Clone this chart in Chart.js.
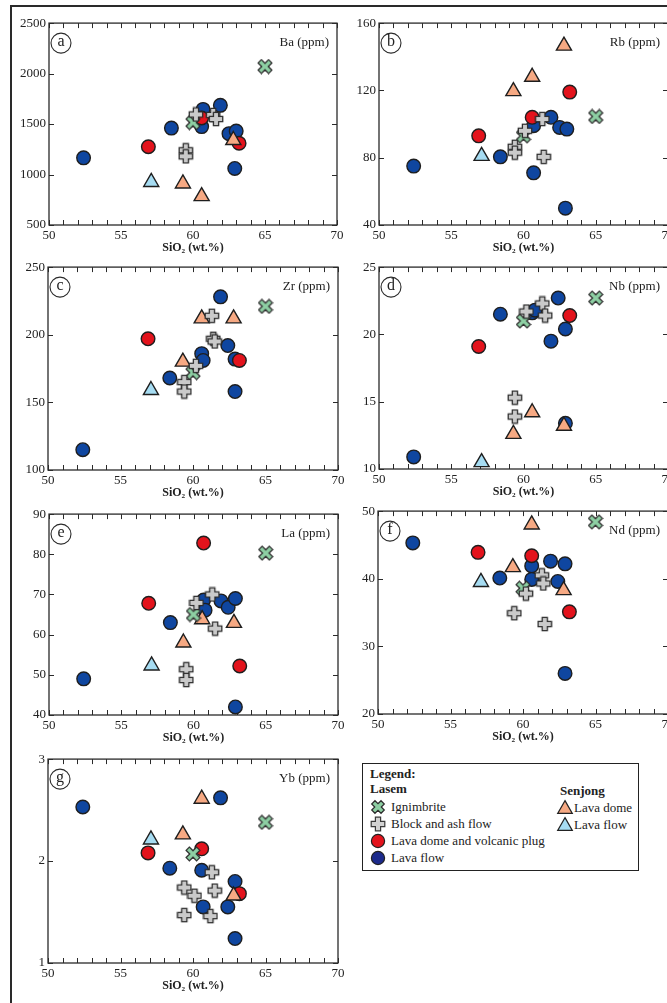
<!DOCTYPE html>
<html>
<head>
<meta charset="utf-8">
<title>SiO2 variation diagrams</title>
<script src="https://cdn.jsdelivr.net/npm/chart.js@4.4.1/dist/chart.umd.min.js"></script>
<style>
  html, body { margin: 0; padding: 0; background: #fff; }
  body { width: 667px; height: 1003px; position: relative; overflow: hidden; font-family: "Liberation Serif", "Times New Roman", serif; color: #222; }
  .frame { position: absolute; left: 10px; top: 5px; width: 700px; height: 1100px; border-left: 2px solid #2a2a2a; border-top: 2px solid #2a2a2a; }
  .panel { position: absolute; }
  .panel canvas { display: block; }
  .legend { position: absolute; left: 362px; top: 763px; width: 275px; height: 106px; border: 1px solid #222; background: #fff; font-size: 13px; }
  .legend div { position: absolute; line-height: 16px; white-space: nowrap; }
  .legend svg { position: absolute; }
</style>
</head>
<body>
<div class="frame"></div>
<div id="panels"></div>

<div class="legend">
  <div style="left:7px;top:2px"><b>Legend:</b></div>
  <div style="left:7px;top:17px"><b>Lasem</b></div>
  <svg style="left:7px;top:35px" width="16" height="16"><polygon points="5.7,1.4 10.3,1.4 10.3,5.7 14.6,5.7 14.6,10.3 10.3,10.3 10.3,14.6 5.7,14.6 5.7,10.3 1.4,10.3 1.4,5.7 5.7,5.7" transform="rotate(45 8 8)" fill="#8dcfa3" stroke="#2a2a2a" stroke-width="1.2"/></svg>
  <div style="left:28px;top:35px">Ignimbrite</div>
  <svg style="left:7px;top:52px" width="16" height="16"><polygon points="5.4,1.2 10.6,1.2 10.6,5.4 14.8,5.4 14.8,10.6 10.6,10.6 10.6,14.8 5.4,14.8 5.4,10.6 1.2,10.6 1.2,5.4 5.4,5.4" fill="#d2d2d2" stroke="#3a3a3a" stroke-width="1.2"/></svg>
  <div style="left:28px;top:52px">Block and ash flow</div>
  <svg style="left:7px;top:69px" width="16" height="16"><circle cx="8" cy="8" r="6.6" fill="#e3131c" stroke="#222" stroke-width="1.2"/></svg>
  <div style="left:28px;top:69px">Lava dome and volcanic plug</div>
  <svg style="left:7px;top:86px" width="16" height="16"><circle cx="8" cy="8" r="6.6" fill="#1c2a8c" stroke="#222" stroke-width="1.2"/></svg>
  <div style="left:28px;top:86px">Lava flow</div>

  <div style="left:197px;top:19px"><b>Senjong</b></div>
  <svg style="left:193px;top:35px" width="18" height="16"><polygon points="9,1.6 16.3,14.4 1.7,14.4" fill="#f6a983" stroke="#222" stroke-width="1.2"/></svg>
  <div style="left:211px;top:36px">Lava dome</div>
  <svg style="left:193px;top:52px" width="18" height="16"><polygon points="9,1.6 16.3,14.4 1.7,14.4" fill="#a6dcf2" stroke="#222" stroke-width="1.2"/></svg>
  <div style="left:211px;top:53px">Lava flow</div>
</div>

<script>
Chart.defaults.font.family = '"Liberation Serif", "Times New Roman", serif';
Chart.defaults.color = '#222';
Chart.defaults.animation = false;

// tick labels
const sio2Ticks = [50, 55, 60, 65, 70];
const baTicks = [500, 1000, 1500, 2000, 2500];
const rbTicks = [40, 80, 120, 160];
const zrTicks = [100, 150, 200, 250];
const nbTicks = [10, 15, 20, 25];
const laTicks = [40, 50, 60, 70, 80, 90];
const ndTicks = [20, 30, 40, 50];
const ybTicks = [1, 2, 3];

// [SiO2 wt.%, element ppm]
// Ba
const baIgnimbrite = [[60.0, 1515], [65.0, 2070]];
const baBlockAsh = [[60.2, 1595], [61.4, 1590], [61.6, 1550], [59.5, 1240], [59.5, 1180]];
const baDomePlug = [[56.9, 1275], [60.6, 1560], [63.2, 1310]];
const baLavaFlow = [[52.4, 1165], [58.5, 1460], [60.7, 1645], [60.6, 1475], [61.9, 1685], [62.5, 1405], [63.0, 1430], [62.9, 1060]];
const baSenjongDome = [[59.3, 910], [60.6, 785], [62.8, 1340]];
const baSenjongFlow = [[57.1, 925]];
// Rb
const rbIgnimbrite = [[60.0, 93], [65.0, 104.5]];
const rbBlockAsh = [[60.1, 96], [59.4, 86.5], [59.4, 83], [61.3, 103], [61.4, 80.5]];
const rbDomePlug = [[56.9, 93], [60.6, 104], [63.2, 119]];
const rbLavaFlow = [[52.4, 75], [58.4, 80.5], [60.7, 99], [60.7, 71], [61.9, 104], [62.5, 98], [63.0, 97], [62.9, 50]];
const rbSenjongDome = [[59.3, 119.5], [60.6, 128], [62.8, 146.5]];
const rbSenjongFlow = [[57.1, 81]];
// Zr
const zrIgnimbrite = [[60.0, 172], [65.0, 221]];
const zrBlockAsh = [[60.2, 177], [61.3, 214], [61.4, 197], [61.5, 195], [59.4, 165], [59.4, 158]];
const zrDomePlug = [[56.9, 197], [63.2, 181]];
const zrLavaFlow = [[52.4, 115], [58.4, 168], [60.6, 186], [60.7, 181], [61.9, 228], [62.4, 192], [62.9, 182], [62.9, 158]];
const zrSenjongDome = [[59.3, 180], [60.6, 212], [62.8, 212]];
const zrSenjongFlow = [[57.1, 159]];
// Nb
const nbIgnimbrite = [[60.0, 21.0], [65.0, 22.7]];
const nbBlockAsh = [[60.2, 21.7], [61.3, 22.3], [61.5, 21.4], [59.4, 15.3], [59.4, 13.9]];
const nbDomePlug = [[56.9, 19.1], [63.2, 21.4]];
const nbLavaFlow = [[52.4, 10.9], [58.4, 21.5], [60.6, 21.6], [60.8, 21.8], [61.9, 19.5], [62.4, 22.7], [62.9, 20.4], [62.9, 13.4]];
const nbSenjongDome = [[59.3, 12.6], [60.6, 14.2], [62.8, 13.2]];
const nbSenjongFlow = [[57.1, 10.5]];
// La
const laIgnimbrite = [[60.0, 65.0], [65.0, 80.3]];
const laBlockAsh = [[60.2, 67.9], [61.3, 70.0], [61.5, 61.5], [59.5, 51.4], [59.5, 48.7]];
const laDomePlug = [[56.9, 67.8], [60.7, 82.8], [63.2, 52.2]];
const laLavaFlow = [[52.4, 49.0], [58.4, 63.0], [60.7, 68.6], [60.8, 66.1], [61.9, 68.4], [62.4, 66.8], [62.9, 69.0], [62.9, 42.0]];
const laSenjongDome = [[59.3, 58.0], [60.6, 63.8], [62.8, 62.9]];
const laSenjongFlow = [[57.1, 52.3]];
// Nd
const ndIgnimbrite = [[60.0, 38.6], [65.0, 48.4]];
const ndBlockAsh = [[60.2, 37.8], [61.3, 40.5], [61.4, 39.3], [59.4, 34.9], [61.5, 33.3]];
const ndDomePlug = [[56.9, 43.9], [60.6, 43.4], [63.2, 35.1]];
const ndLavaFlow = [[52.4, 45.3], [58.4, 40.1], [60.6, 41.9], [60.6, 39.9], [61.9, 42.6], [62.4, 39.6], [62.9, 42.2], [62.9, 26.0]];
const ndSenjongDome = [[59.3, 41.7], [60.6, 48.0], [62.8, 38.3]];
const ndSenjongFlow = [[57.1, 39.5]];
// Yb
const ybIgnimbrite = [[60.0, 2.07], [65.0, 2.38]];
const ybBlockAsh = [[59.4, 1.74], [60.1, 1.66], [61.3, 1.89], [61.5, 1.71], [59.4, 1.47], [61.2, 1.46]];
const ybDomePlug = [[56.9, 2.08], [60.6, 2.12], [63.2, 1.68]];
const ybLavaFlow = [[52.4, 2.53], [58.4, 1.93], [60.6, 1.91], [60.7, 1.55], [61.9, 2.62], [62.4, 1.55], [62.9, 1.80], [62.9, 1.24]];
const ybSenjongDome = [[59.3, 2.26], [60.6, 2.61], [62.8, 1.66]];
const ybSenjongFlow = [[57.1, 2.21]];

// marker images for the plus and the cross
function makeMarker(kind) {
  const c = document.createElement('canvas');
  c.width = 16; c.height = 16;
  const g = c.getContext('2d');
  const w = kind === 'plus' ? 2.6 : 2.3;
  const l = kind === 'plus' ? 6.7 : 7.4;
  g.translate(8, 8);
  if (kind === 'x') g.rotate(Math.PI / 4);
  g.beginPath();
  g.moveTo(-w, -l); g.lineTo(w, -l); g.lineTo(w, -w); g.lineTo(l, -w);
  g.lineTo(l, w); g.lineTo(w, w); g.lineTo(w, l); g.lineTo(-w, l);
  g.lineTo(-w, w); g.lineTo(-l, w); g.lineTo(-l, -w); g.lineTo(-w, -w);
  g.closePath();
  g.fillStyle = kind === 'plus' ? '#cacaca' : '#8dcfa3';
  g.fill();
  g.lineWidth = 1.3;
  g.strokeStyle = '#2e2e2e';
  g.stroke();
  return c;
}

// first entry is drawn on top
const groups = [
  { name: 'Block and ash flow', style: makeMarker('plus'), radius: 7 },
  { name: 'Ignimbrite', style: makeMarker('x'), radius: 7 },
  { name: 'Senjong lava dome', style: 'triangle', radius: 8.7, fill: '#f6a983' },
  { name: 'Senjong lava flow', style: 'triangle', radius: 8.7, fill: '#a6dcf2' },
  { name: 'Lava dome and volcanic plug', style: 'circle', radius: 6.8, fill: '#e3131c' },
  { name: 'Lava flow', style: 'circle', radius: 6.8, fill: '#0f46a0' }
];

const panels = [
  { letter: 'a', element: 'Ba (ppm)', yTicks: baTicks, area: [49, 23, 337, 225],
    data: [baBlockAsh, baIgnimbrite, baSenjongDome, baSenjongFlow, baDomePlug, baLavaFlow] },
  { letter: 'b', element: 'Rb (ppm)', yTicks: rbTicks, area: [379, 23, 668, 225],
    data: [rbBlockAsh, rbIgnimbrite, rbSenjongDome, rbSenjongFlow, rbDomePlug, rbLavaFlow] },
  { letter: 'c', element: 'Zr (ppm)', yTicks: zrTicks, area: [48, 267, 338, 470],
    data: [zrBlockAsh, zrIgnimbrite, zrSenjongDome, zrSenjongFlow, zrDomePlug, zrLavaFlow] },
  { letter: 'd', element: 'Nb (ppm)', yTicks: nbTicks, area: [379, 267, 668, 469],
    data: [nbBlockAsh, nbIgnimbrite, nbSenjongDome, nbSenjongFlow, nbDomePlug, nbLavaFlow] },
  { letter: 'e', element: 'La (ppm)', yTicks: laTicks, area: [49, 514, 338, 715],
    data: [laBlockAsh, laIgnimbrite, laSenjongDome, laSenjongFlow, laDomePlug, laLavaFlow] },
  { letter: 'f', element: 'Nd (ppm)', yTicks: ndTicks, area: [378, 511, 668, 714],
    data: [ndBlockAsh, ndIgnimbrite, ndSenjongDome, ndSenjongFlow, ndDomePlug, ndLavaFlow] },
  { letter: 'g', element: 'Yb (ppm)', yTicks: ybTicks, area: [48, 759, 338, 963],
    data: [ybBlockAsh, ybIgnimbrite, ybSenjongDome, ybSenjongFlow, ybDomePlug, ybLavaFlow] }
];

// box round the plot, inward ticks, panel letter and element name
const panelFrame = {
  id: 'panelFrame',
  beforeDatasetsDraw(chart, args, opts) {
    const { ctx, chartArea: a, scales: { x, y } } = chart;
    ctx.save();
    ctx.strokeStyle = '#2a2a2a';
    ctx.lineWidth = 1.3;
    ctx.strokeRect(a.left, a.top, a.right - a.left, a.bottom - a.top);
    ctx.lineWidth = 1;
    ctx.beginPath();
    for (let v = x.min; v <= x.max; v++) {
      const px = Math.round(x.getPixelForValue(v)) + 0.5;
      ctx.moveTo(px, a.top); ctx.lineTo(px, a.top + 5);
      ctx.moveTo(px, a.bottom); ctx.lineTo(px, a.bottom - 5);
    }
    y.ticks.forEach(t => {
      const py = Math.round(y.getPixelForValue(t.value)) + 0.5;
      ctx.moveTo(a.left, py); ctx.lineTo(a.left + 5, py);
      ctx.moveTo(a.right, py); ctx.lineTo(a.right - 5, py);
    });
    ctx.stroke();

    ctx.beginPath();
    ctx.arc(a.left + 12, a.top + 20, 10, 0, Math.PI * 2);
    ctx.fillStyle = '#fff';
    ctx.fill();
    ctx.lineWidth = 1.1;
    ctx.stroke();
    ctx.fillStyle = '#222';
    ctx.textAlign = 'center';
    ctx.textBaseline = 'middle';
    ctx.font = '16px "Liberation Serif", serif';
    ctx.fillText(opts.letter, a.left + 12, a.top + 19);
    ctx.textAlign = 'right';
    ctx.font = '13px "Liberation Serif", serif';
    ctx.fillText(opts.element, a.right - 8, a.top + 19);
    ctx.restore();
  }
};

const host = document.getElementById('panels');
const PAD_TOP = 10, PAD_RIGHT = 12, Y_W = 40, X_H = 34;

panels.forEach(p => {
  const [left, top, right, bottom] = p.area;
  const wrap = document.createElement('div');
  wrap.className = 'panel';
  wrap.style.left = (left - Y_W) + 'px';
  wrap.style.top = (top - PAD_TOP) + 'px';
  const cv = document.createElement('canvas');
  cv.width = right - left + Y_W + PAD_RIGHT;
  cv.height = bottom - top + PAD_TOP + X_H;
  wrap.appendChild(cv);
  host.appendChild(wrap);

  new Chart(cv, {
    type: 'scatter',
    data: {
      datasets: groups.map((g, i) => ({
        label: g.name,
        data: p.data[i].map(([x, y]) => ({ x, y })),
        pointStyle: g.style,
        pointRadius: g.radius,
        pointHoverRadius: g.radius,
        pointBackgroundColor: g.fill || '#ccc',
        pointBorderColor: '#1e1e1e',
        pointBorderWidth: 1.4,
        clip: false
      }))
    },
    options: {
      responsive: false,
      animation: false,
      layout: { padding: { top: PAD_TOP, right: PAD_RIGHT, left: 0, bottom: 0 } },
      plugins: {
        legend: { display: false },
        tooltip: { enabled: false },
        panelFrame: { letter: p.letter, element: p.element }
      },
      scales: {
        x: {
          type: 'linear',
          min: sio2Ticks[0],
          max: sio2Ticks[sio2Ticks.length - 1],
          afterBuildTicks: s => { s.ticks = sio2Ticks.map(v => ({ value: v })); },
          grid: { display: false, drawTicks: false },
          border: { display: false },
          ticks: { padding: 3, font: { size: 13 }, color: '#222', maxRotation: 0, autoSkip: false, callback: v => String(v) },
          title: { display: true, text: 'SiO₂ (wt.%)', font: { size: 12, weight: 'bold' }, color: '#222', padding: { top: 0, bottom: 4 } },
          afterFit: s => { s.height = X_H; s.paddingLeft = 0; s.paddingRight = 0; }
        },
        y: {
          type: 'linear',
          min: p.yTicks[0],
          max: p.yTicks[p.yTicks.length - 1],
          afterBuildTicks: s => { s.ticks = p.yTicks.map(v => ({ value: v })); },
          grid: { display: false, drawTicks: false },
          border: { display: false },
          ticks: { padding: 3, font: { size: 13 }, color: '#222', autoSkip: false, callback: v => String(v) },
          afterFit: s => { s.width = Y_W; s.paddingTop = 0; s.paddingBottom = 0; }
        }
      }
    },
    plugins: [panelFrame]
  });
});
</script>
</body>
</html>
